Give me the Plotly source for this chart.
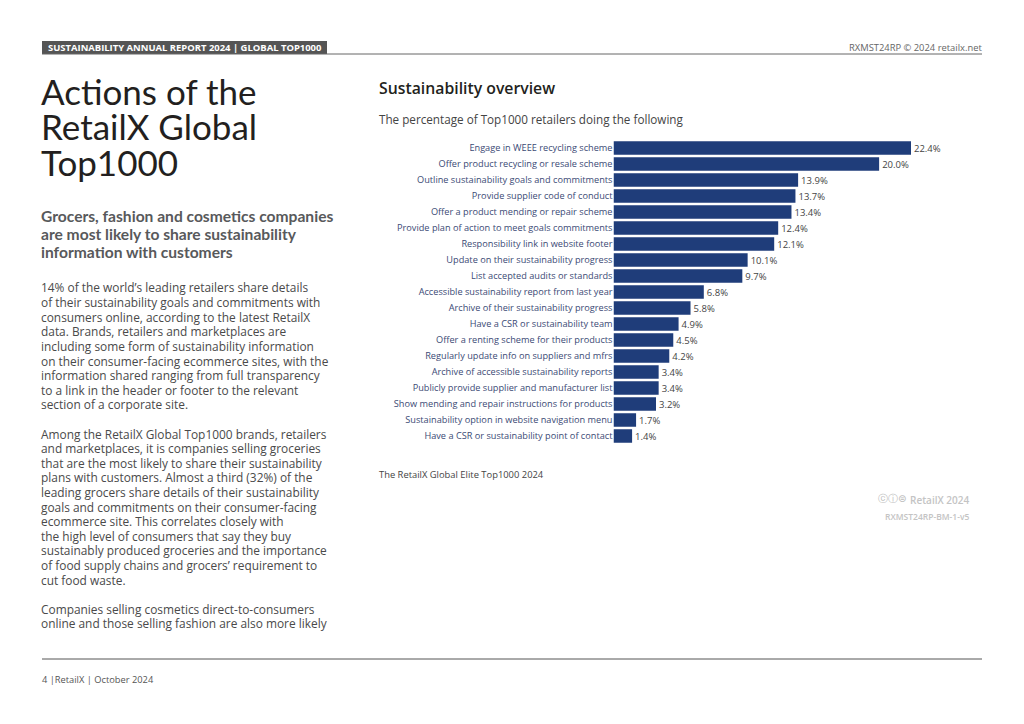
import plotly.graph_objects as go

categories = ["Engage in WEEE recycling scheme","Offer product recycling or resale scheme","Outline sustainability goals and commitments","Provide supplier code of conduct","Offer a product mending or repair scheme","Provide plan of action to meet goals commitments","Responsibility link in website footer","Update on their sustainability progress","List accepted audits or standards","Accessible sustainability report from last year","Archive of their sustainability progress","Have a CSR or sustainability team","Offer a renting scheme for their products","Regularly update info on suppliers and mfrs","Archive of accessible sustainability reports","Publicly provide supplier and manufacturer list","Show mending and repair instructions for products","Sustainability option in website navigation menu","Have a CSR or sustainability point of contact"]
values = [22.4,20.0,13.9,13.7,13.4,12.4,12.1,10.1,9.7,6.8,5.8,4.9,4.5,4.2,3.4,3.4,3.2,1.7,1.4]

title_lines = ["Actions of the","RetailX Global","Top1000"]
sub_lines = ["Grocers, fashion and cosmetics companies","are most likely to share sustainability","information with customers"]
body_lines = ["14% of the world’s leading retailers share details","of their sustainability goals and commitments with","consumers online, according to the latest RetailX","data. Brands, retailers and marketplaces are","including some form of sustainability information","on their consumer-facing ecommerce sites, with the","information shared ranging from full transparency","to a link in the header or footer to the relevant","section of a corporate site.","",
"Among the RetailX Global Top1000 brands, retailers","and marketplaces, it is companies selling groceries","that are the most likely to share their sustainability","plans with customers. Almost a third (32%) of the","leading grocers share details of their sustainability","goals and commitments on their consumer-facing","ecommerce site. This correlates closely with","the high level of consumers that say they buy","sustainably produced groceries and the importance","of food supply chains and grocers’ requirement to","cut food waste.","",
"Companies selling cosmetics direct-to-consumers","online and those selling fashion are also more likely"]

W, H = 1024, 724
def px(x): return x / W
def py(y): return 1 - y / H

fig = go.Figure(go.Bar(
    x=values, y=categories, orientation="h",
    marker=dict(color="#1f3d7a", line_width=0),
    text=[f"{v:.1f}%" for v in values], textposition="outside", cliponaxis=False,
    textfont=dict(family="Open Sans", size=9.5, color="#444444"),
    width=0.84, hoverinfo="skip"))

def label(x, y, text, size, color, family="Open Sans", anchor="left", weight=None):
    fig.add_annotation(xref="paper", yref="paper", x=px(x), y=py(y), text=text, showarrow=False,
                       xanchor=anchor, yanchor="middle", align=anchor,
                       font=dict(family=family, size=size, color=color, weight=weight), borderpad=0, borderwidth=0)

fig.add_shape(type="rect", xref="paper", yref="paper", x0=px(42), x1=px(327), y0=py(41), y1=py(54), fillcolor="#555555", line_width=0)
fig.add_shape(type="line", xref="paper", yref="paper", x0=px(42), x1=px(982), y0=py(54), y1=py(54), line=dict(color="#666666", width=1))
fig.add_shape(type="line", xref="paper", yref="paper", x0=px(42), x1=px(982), y0=py(659), y1=py(659), line=dict(color="#555555", width=1))

label(48, 47.5, "SUSTAINABILITY ANNUAL REPORT 2024 | GLOBAL TOP1000", 9.45, "#ffffff", weight=700)
label(982, 47.5, "RXMST24RP © 2024 retailx.net", 9.4, "#666666", anchor="right")

for i, t in enumerate(title_lines):
    label(41, 91 + i * 35.3, t, 35, "#231f20", family="Lato")
for i, t in enumerate(sub_lines):
    label(41, 216 + i * 18, t, 15.6, "#58595b", family="Lato", weight=700)
for i, t in enumerate(body_lines):
    if t:
        label(41, 287.5 + i * 14.6, t, 11.9, "#4a4a4a")

label(379, 88, "Sustainability overview", 15.8, "#231f20", weight=600)
label(379, 119.5, "The percentage of Top1000 retailers doing the following", 11.7, "#444444")
label(379, 474.5, "The RetailX Global Elite Top1000 2024", 9.4, "#444444")
label(906, 498, "ⓒⓘ⊜", 10, "#bbbbbb", family="DejaVu Sans", anchor="right")
label(969, 500, "RetailX 2024", 10, "#c4c4c4", anchor="right", weight=600)
label(969, 516, "RXMST24RP-BM-1-v5", 8.5, "#c4c4c4", anchor="right", weight=600)
label(42, 679, "4 |RetailX | October 2024", 9.3, "#555555")

fig.update_layout(
    width=W, height=H, margin=dict(l=0, r=0, t=0, b=0), showlegend=False,
    paper_bgcolor="white", plot_bgcolor="white",
    xaxis=dict(domain=[px(613.5), px(911)], range=[0, 22.4], visible=False),
    yaxis=dict(domain=[py(444), py(140)], autorange="reversed", showgrid=False, showline=False, zeroline=False,
               ticks="", ticklabelstandoff=0, tickmode="array", tickvals=categories, ticktext=categories,
               tickfont=dict(family="Open Sans", size=9.2, color="#3b4a75")),
)
fig.write_html("out.html", post_script="document.body.style.margin='0';", config=dict(displayModeBar=False))
